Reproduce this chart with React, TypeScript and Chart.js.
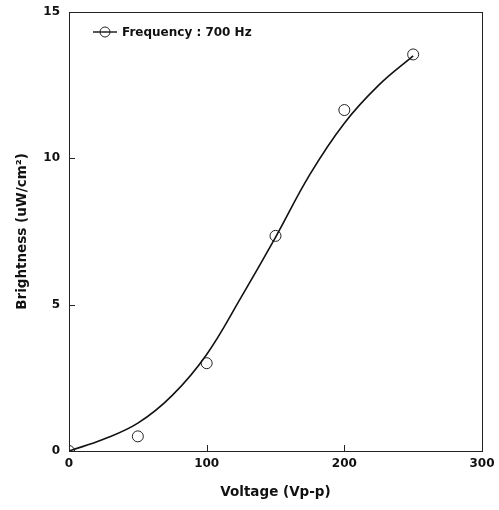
import React, { useEffect, useRef } from "react";
import { Chart, registerables } from "chart.js";
Chart.register(...registerables);

const voltage = [0, 50, 100, 150, 200, 250];
const brightness = [0, 0.5, 3.0, 7.35, 11.65, 13.55];
const fitVoltage = [0, 25, 50, 75, 100, 125, 150, 175, 200, 225, 250];
const fitBrightness = [0, 0.4, 0.95, 1.9, 3.3, 5.25, 7.3, 9.45, 11.2, 12.5, 13.5];
const xTicks = [0, 100, 200, 300];
const yTicks = [0, 5, 10, 15];
const legendLabel = "Frequency : 700 Hz";
const xTitle = "Voltage (Vp-p)";
const yTitle = "Brightness (uW/cm\u00B2)";

const FONT = "'DejaVu Sans', 'Liberation Sans', Arial, sans-serif";

const framePlugin = {
  id: "frame",
  afterDraw(chart: any) {
    const { ctx, chartArea } = chart;
    const { left, right, top, bottom } = chartArea;
    ctx.save();
    ctx.strokeStyle = "#222";
    ctx.lineWidth = 1;
    ctx.strokeRect(left + 0.5, top + 0.5, right - left, bottom - top);
    const xs = chart.scales.x;
    const ys = chart.scales.y;
    ctx.beginPath();
    xTicks.forEach((v) => {
      const px = Math.round(xs.getPixelForValue(v)) + 0.5;
      ctx.moveTo(px, bottom);
      ctx.lineTo(px, bottom - 6);
    });
    yTicks.forEach((v) => {
      const py = Math.round(ys.getPixelForValue(v)) + 0.5;
      ctx.moveTo(left, py);
      ctx.lineTo(left + 6, py);
    });
    ctx.stroke();

    // legend
    const lx = 93, ly = 32;
    ctx.beginPath();
    ctx.lineWidth = 1.5;
    ctx.moveTo(lx, ly);
    ctx.lineTo(lx + 24, ly);
    ctx.stroke();
    ctx.beginPath();
    ctx.lineWidth = 1;
    ctx.arc(lx + 12, ly, 5, 0, Math.PI * 2);
    ctx.stroke();
    ctx.fillStyle = "#111";
    ctx.font = `bold 12px ${FONT}`;
    ctx.textBaseline = "middle";
    ctx.textAlign = "left";
    ctx.fillText(legendLabel, lx + 29, ly + 1);
    ctx.restore();
  },
};

export default function App() {
  const ref = useRef<HTMLCanvasElement>(null);
  useEffect(() => {
    if (!ref.current) return;
    const chart = new Chart(ref.current, {
      type: "scatter",
      data: {
        datasets: [
          {
            type: "line",
            data: fitVoltage.map((x, i) => ({ x, y: fitBrightness[i] })),
            borderColor: "#111",
            borderWidth: 1.6,
            pointRadius: 0,
            tension: 0.4,
            fill: false,
          } as any,
          {
            data: voltage.map((x, i) => ({ x, y: brightness[i] })),
            pointRadius: 5.5,
            pointBorderWidth: 1,
            pointBorderColor: "#222",
            pointBackgroundColor: "rgba(0,0,0,0)",
            showLine: false,
          },
        ],
      },
      options: {
        animation: false,
        responsive: false,
        layout: { padding: { top: 12, right: 17, left: 0, bottom: 0 } },
        plugins: { legend: { display: false }, tooltip: { enabled: false } },
        scales: {
          x: {
            type: "linear",
            min: 0,
            max: 300,
            grid: { display: false, drawTicks: false },
            border: { display: false },
            ticks: {
              stepSize: 100,
              padding: 6,
              color: "#111",
              font: { family: FONT, weight: "bold", size: 12 },
            },
            title: {
              display: true,
              text: xTitle,
              color: "#111",
              font: { family: FONT, weight: "bold", size: 13.5 },
              padding: { top: 0, bottom: 9 },
            },
            afterFit(s: any) {
              s.height = 59;
              s.paddingLeft = 0;
              s.paddingRight = 0;
            },
          },
          y: {
            min: 0,
            max: 15,
            grid: { display: false, drawTicks: false },
            border: { display: false },
            ticks: {
              stepSize: 5,
              padding: 9,
              color: "#111",
              font: { family: FONT, weight: "bold", size: 12 },
            },
            title: {
              display: true,
              text: yTitle,
              color: "#111",
              font: { family: FONT, weight: "bold", size: 13.5 },
              padding: { top: 14, bottom: 0 },
            },
            afterFit(s: any) {
              s.width = 69;
              s.paddingTop = 0;
              s.paddingBottom = 0;
            },
          },
        },
      } as any,
      plugins: [framePlugin],
    });
    return () => chart.destroy();
  }, []);
  return (
    <div style={{ position: "fixed", left: 0, top: 0, width: 499, height: 510, background: "#fff" }}>
      <canvas ref={ref} width={499} height={510} style={{ width: 499, height: 510 }} />
    </div>
  );
}
